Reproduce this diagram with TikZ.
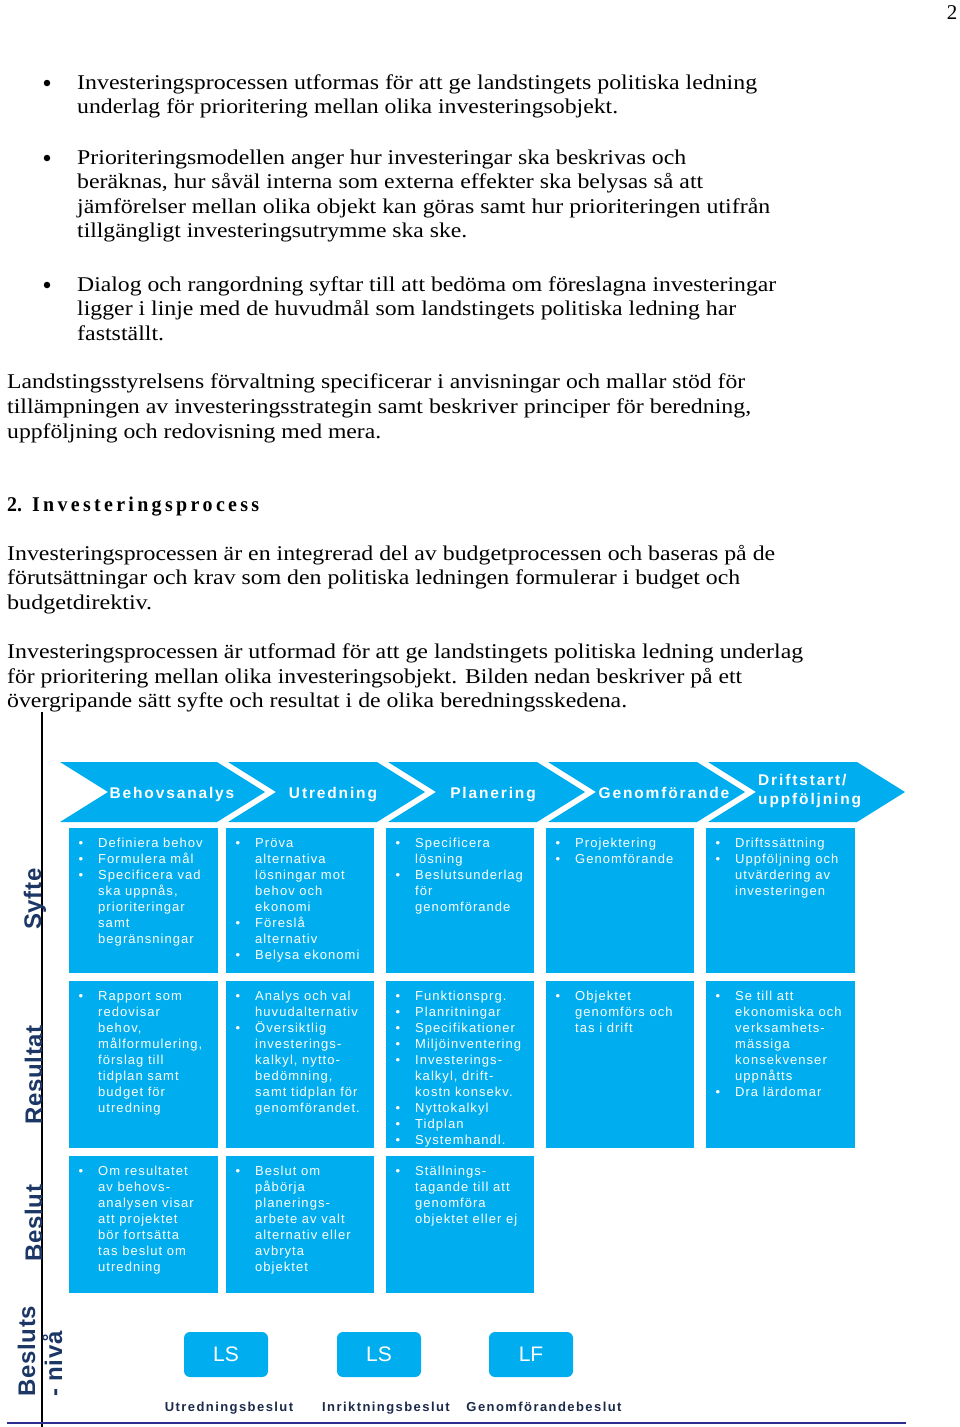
\documentclass[tikz,border=0pt]{standalone}
\usepackage{fontspec}
\usepackage{graphicx}
\setmainfont{Liberation Serif}
\newfontfamily\boxf[LetterSpace=8]{Liberation Sans}
\newfontfamily\chevf[LetterSpace=12]{Liberation Sans}
\newfontfamily\labf[LetterSpace=3]{Liberation Sans}
\newfontfamily\botf[LetterSpace=11]{Liberation Sans}
\newfontfamily\lsf{Liberation Sans}
\definecolor{procblue}{HTML}{00AEEF}
\definecolor{labnavy}{HTML}{1C3766}
\definecolor{botnavy}{HTML}{1B2A4A}
\definecolor{linenavy}{HTML}{2B2E8C}
\newsavebox\fitbox
\newcommand\fitline[2]{\sbox\fitbox{#2}\pgfmathsetmacro\fitr{#1/\the\wd\fitbox}\scalebox{\fitr}[1]{\usebox\fitbox}}
\newcommand\bl{\makebox[19.5pt][l]{•}}
\newcommand\ind{\hspace*{19.5pt}}
\begin{document}
\begin{tikzpicture}[x=1pt,y=-1pt,
  tline/.style={anchor=base west, inner sep=0pt, font=\fontsize{21}{24}\selectfont},
  bulletdot/.style={anchor=base, inner sep=0pt, font=\fontsize{21}{24}\selectfont},
  bigdot/.style={circle, fill=black, inner sep=0pt, minimum size=6.5pt},
  cellbox/.style={fill=procblue, draw=none, inner sep=0pt, anchor=north west},
  celltext/.style={anchor=base west, inner sep=0pt, text=white, font=\boxf\fontsize{13}{16}\selectfont},
  chev/.style={fill=procblue},
  chevtext/.style={anchor=base, inner sep=0pt, text=white, font=\chevf\bfseries\fontsize{15.5}{19}\selectfont},
  sidelab/.style={anchor=base west, rotate=90, inner sep=0pt, text=labnavy, font=\labf\bfseries\fontsize{24}{28}\selectfont},
  lsbox/.style={fill=procblue, rounded corners=6pt, minimum width=84pt, minimum height=45pt, inner sep=0pt, text=white, font=\lsf\fontsize{21}{24}\selectfont},
  botlab/.style={anchor=base, inner sep=0pt, text=botnavy, font=\botf\bfseries\fontsize{13}{16}\selectfont}
]
\fill[white] (0,0) rectangle (960,1427);
\useasboundingbox (0,0) rectangle (960,1427);

% page number
\node[bulletdot] (pnum) at (952,19) {2};

% bullet list
\node[bigdot] (d1) at (47,83) {};
\node[tline] (l1) at (77,89) {\fitline{680}{Investeringsprocessen utformas för att ge landstingets politiska ledning}};
\node[tline] (l2) at (77,113) {\fitline{541}{underlag för prioritering mellan olika investeringsobjekt.}};
\node[bigdot] (d2) at (47,158) {};
\node[tline] (l3) at (77,164) {\fitline{609}{Prioriteringsmodellen anger hur investeringar ska beskrivas och}};
\node[tline] (l4) at (77,188) {\fitline{626}{beräknas, hur såväl interna som externa effekter ska belysas så att}};
\node[tline] (l5) at (77,213) {\fitline{693}{jämförelser mellan olika objekt kan göras samt hur prioriteringen utifrån}};
\node[tline] (l6) at (77,237) {\fitline{390}{tillgängligt investeringsutrymme ska ske.}};
\node[bigdot] (d3) at (47,285) {};
\node[tline] (l7) at (77,291) {\fitline{699}{Dialog och rangordning syftar till att bedöma om föreslagna investeringar}};
\node[tline] (l8) at (77,315) {\fitline{659}{ligger i linje med de huvudmål som landstingets politiska ledning har}};
\node[tline] (l9) at (77,340) {\fitline{87}{fastställt.}};

% paragraphs
\node[tline] (p1) at (7,388) {\fitline{738}{Landstingsstyrelsens förvaltning specificerar i anvisningar och mallar stöd för}};
\node[tline] (p2) at (7,413) {\fitline{744}{tillämpningen av investeringsstrategin samt beskriver principer för beredning,}};
\node[tline] (p3) at (7,438) {\fitline{374}{uppföljning och redovisning med mera.}};
\node[tline] (head) at (7,511) {\fitline{252}{\bfseries 2.\ \ I\,n\,v\,e\,s\,t\,e\,r\,i\,n\,g\,s\,p\,r\,o\,c\,e\,s\,s}};
\node[tline] (p4) at (7,560) {\fitline{768}{Investeringsprocessen är en integrerad del av budgetprocessen och baseras på de}};
\node[tline] (p5) at (7,584) {\fitline{733}{förutsättningar och krav som den politiska ledningen formulerar i budget och}};
\node[tline] (p6) at (7,609) {\fitline{145}{budgetdirektiv.}};
\node[tline] (p7) at (7,658) {\fitline{796}{Investeringsprocessen är utformad för att ge landstingets politiska ledning underlag}};
\node[tline] (p8) at (7,683) {\fitline{735}{för prioritering mellan olika investeringsobjekt. Bilden nedan beskriver på ett}};
\node[tline] (p9) at (7,707) {\fitline{620}{övergripande sätt syfte och resultat i de olika beredningsskedena.}};

% axes lines
\coordinate (vtop) at (42,712);
\coordinate (vbot) at (42,1427);
\draw[black, line width=1.3pt] (vtop) -- (vbot);
\coordinate (hl) at (7,1423);
\coordinate (hr) at (906,1423);
\draw[linenavy, line width=1.3pt] (hl) -- (hr);

% chevrons
\foreach \L/\R in {60/217, 228/377, 388/537, 548/697, 708/857}{
  \fill[chev] (\L,762) -- (\R,762) -- (\R+48,792) -- (\R,822) -- (\L,822) -- (\L+48,792) -- cycle;
}
\node[chevtext] (c1) at (172,798) {Behovsanalys};
\node[chevtext] (c2) at (333,798) {Utredning};
\node[chevtext] (c3) at (493,798) {Planering};
\node[chevtext] (c4) at (664,798) {Genomförande};
\node[chevtext, anchor=base west] (c5a) at (758,785) {Driftstart/};
\node[chevtext, anchor=base west] (c5b) at (758,804) {uppföljning};

% cells
\newcommand\cell[6]{%
  \node[cellbox, minimum width=#4, minimum height=#5] (#1) at (#2,#3) {};
  \node[celltext] (#1t) at (#2+9.5,#3+19) {\parbox[t]{150pt}{\raggedright\boxf\fontsize{13}{16}\selectfont #6}};}

\cell{s1}{69}{828}{149}{145}{\bl Definiera behov\\\bl Formulera mål\\\bl Specificera vad\\\ind ska uppnås,\\\ind prioriteringar\\\ind samt\\\ind begränsningar}
\cell{s2}{226}{828}{148}{145}{\bl Pröva\\\ind alternativa\\\ind lösningar mot\\\ind behov och\\\ind ekonomi\\\bl Föreslå\\\ind alternativ\\\bl Belysa ekonomi}
\cell{s3}{386}{828}{148}{145}{\bl Specificera\\\ind lösning\\\bl Beslutsunderlag\\\ind för\\\ind genomförande}
\cell{s4}{546}{828}{148}{145}{\bl Projektering\\\bl Genomförande}
\cell{s5}{706}{828}{149}{145}{\bl Driftssättning\\\bl Uppföljning och\\\ind utvärdering av\\\ind investeringen}

\cell{r1}{69}{981}{149}{167}{\bl Rapport som\\\ind redovisar\\\ind behov,\\\ind målformulering,\\\ind förslag till\\\ind tidplan samt\\\ind budget för\\\ind utredning}
\cell{r2}{226}{981}{148}{167}{\bl Analys och val\\\ind huvudalternativ\\\bl Översiktlig\\\ind investerings-\\\ind kalkyl, nytto-\\\ind bedömning,\\\ind samt tidplan för\\\ind genomförandet.}
\cell{r3}{386}{981}{148}{167}{\bl Funktionsprg.\\\bl Planritningar\\\bl Specifikationer\\\bl Miljöinventering\\\bl Investerings-\\\ind kalkyl, drift-\\\ind kostn konsekv.\\\bl Nyttokalkyl\\\bl Tidplan\\\bl Systemhandl.}
\cell{r4}{546}{981}{148}{167}{\bl Objektet\\\ind genomförs och\\\ind tas i drift}
\cell{r5}{706}{981}{149}{167}{\bl Se till att\\\ind ekonomiska och\\\ind verksamhets-\\\ind mässiga\\\ind konsekvenser\\\ind uppnåtts\\\bl Dra lärdomar}

\cell{b1}{69}{1156}{149}{137}{\bl Om resultatet\\\ind av behovs-\\\ind analysen visar\\\ind att projektet\\\ind bör fortsätta\\\ind tas beslut om\\\ind utredning}
\cell{b2}{226}{1156}{148}{137}{\bl Beslut om\\\ind påbörja\\\ind planerings-\\\ind arbete av valt\\\ind alternativ eller\\\ind avbryta\\\ind objektet}
\cell{b3}{386}{1156}{148}{137}{\bl Ställnings-\\\ind tagande till att\\\ind genomföra\\\ind objektet eller ej}

% side labels
\node[sidelab] (syfte) at (41,930) {Syfte};
\node[sidelab] (resultat) at (42,1125) {Resultat};
\node[sidelab] (beslut) at (42,1262) {Beslut};
\node[sidelab] (besluts) at (35,1397) {Besluts};
\node[sidelab] (niva) at (62,1397) {- nivå};

% decision level boxes
\node[lsbox] (ls1) at (226,1354.5) {LS};
\node[lsbox] (ls2) at (379,1354.5) {LS};
\node[lsbox] (lf) at (531,1354.5) {LF};
\node[botlab] (bl1) at (229,1411) {Utredningsbeslut};
\node[botlab] (bl2) at (386,1411) {Inriktningsbeslut};
\node[botlab] (bl3) at (544,1411) {Genomförandebeslut};
\end{tikzpicture}
\end{document}
